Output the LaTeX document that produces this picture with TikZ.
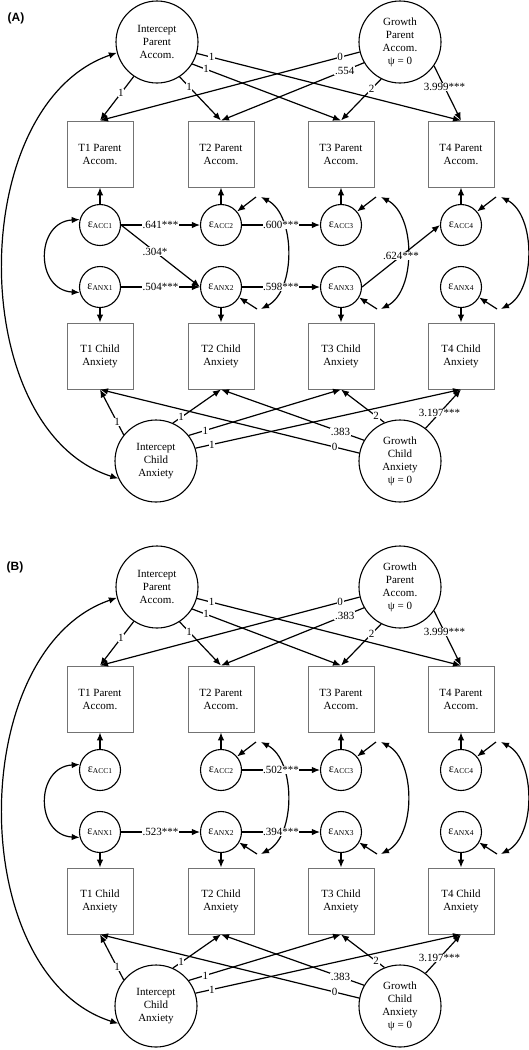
\documentclass[tikz,border=0pt]{standalone}
\usepackage{fontspec}
\setmainfont{Liberation Serif}
\setsansfont{Liberation Sans}
\usetikzlibrary{arrows.meta,calc}
\newcommand\epsl[1]{{\fontsize{12}{12}\selectfont ε}\raisebox{-1.2pt}{\fontsize{7.5}{8}\selectfont #1}}
\tikzset{
  lat/.style={circle,draw,line width=1.1pt,minimum size=82pt,inner sep=0pt,align=center,font=\fontsize{11}{13}\selectfont},
  err/.style={circle,draw,line width=1.1pt,minimum size=41pt,inner sep=0pt},
  obs/.style={rectangle,draw=black!55,line width=0.9pt,minimum width=66pt,minimum height=66pt,inner sep=0pt,align=center,font=\fontsize{11}{13}\selectfont},
  arr/.style={line width=1.2pt,-{Latex[length=8pt,width=6.5pt]}},
  darr/.style={line width=1.2pt,{Latex[length=8pt,width=6.5pt]}-{Latex[length=8pt,width=6.5pt]}},
  lbl/.style={fill=white,inner sep=0.6pt,font=\fontsize{11}{11}\selectfont},
  plabel/.style={font=\sffamily\bfseries\fontsize{12}{14}\selectfont}
}
\newcommand\drawpanel[1]{%
  \node[lat] (IP) at (157,42) {Intercept\\Parent\\Accom.};
  \node[lat] (GP) at (400,42) {Growth\\Parent\\Accom.\\ψ = 0};
  \node[lat] (IC) at (156,461) {Intercept\\Child\\Anxiety};
  \node[lat] (GC) at (400,461) {Growth\\Child\\Anxiety\\ψ = 0};
  \foreach \i/\x in {1/100,2/221,3/341,4/461}{
    \node[obs] (P\i) at (\x,154) {T\i\ Parent\\Accom.};
    \node[err] (A\i) at (\x,225) {\epsl{ACC\i}};
    \node[err] (N\i) at (\x,287) {\epsl{ANX\i}};
    \node[obs] (C\i) at (\x,356) {T\i\ Child\\Anxiety};
    \draw[arr] (A\i) -- (P\i);
    \draw[arr] (N\i) -- (C\i);
  }
  % disturbances and their covariances
  \foreach \i/\x in {2/221,3/341,4/461}{
    \coordinate (ta\i) at ({\x+35},197);
    \coordinate (tn\i) at ({\x+36},309);
    \coordinate (ca\i) at ({\x+40},197);
    \coordinate (cn\i) at ({\x+40},309);
    \draw[arr] (ta\i) -- (A\i.40);
    \draw[arr] (tn\i) -- (N\i.-30);
    \draw[darr] (ca\i) .. controls ({\x+75},215) and ({\x+75},291) .. (cn\i);
  }
  \draw[darr] (A1.165) .. controls (35,222) and (35,290) .. (N1.195);
  \draw[darr] (IP.195) .. controls (-35,105) and (-35,430) .. (IC.205);
  % parent loadings
  \draw[arr] (IP.-124) -- (P1.north) node[lbl,pos=.38]{1};
  \draw[arr] (IP.-57) -- (P2.north) node[lbl,pos=.23]{1};
  \draw[arr] (IP.-32) -- (P3.north) node[lbl,pos=.093]{1};
  \draw[arr] (IP.-16) -- (P4.north) node[lbl,pos=.056]{1};
  \draw[arr] (GP.194) -- (P1.north) node[lbl,pos=.075]{0};
  \draw[arr] (GP.210) -- (P2.north) node[lbl,pos=.135]{#1};
  \draw[arr] (GP.243) -- (P3.north) node[lbl,pos=.24]{2};
  \draw[arr] (GP.-35) -- (P4.north) node[lbl,pos=.385]{3.999***};
  % child loadings
  \draw[arr] (IC.141) -- (C1.south) node[lbl,pos=.28]{1};
  \draw[arr] (IC.66) -- (C2.south) node[lbl,pos=.17]{1};
  \draw[arr] (IC.38) -- (C3.south) node[lbl,pos=.11]{1};
  \draw[arr] (IC.18) -- (C4.south) node[lbl,pos=.062]{1};
  \draw[arr] (GC.169) -- (C1.south) node[lbl,pos=.095]{0};
  \draw[arr] (GC.150) -- (C2.south) node[lbl,pos=.165]{.383};
  \draw[arr] (GC.112) -- (C3.south) node[lbl,pos=.19]{2};
  \draw[arr] (GC.52) -- (C4.south) node[lbl,pos=.39]{3.197***};
}
\begin{document}
\begin{tikzpicture}[x=1pt,y=-1pt]
  \path[fill=white,use as bounding box] (0,0) rectangle (528,1050);
  \begin{scope}[name prefix=a-]
    \drawpanel{.554}
    \draw[arr] (A1.east) -- (A2.west) node[lbl,midway]{.641***};
    \draw[arr] (A1.east) -- (N2.west) node[lbl,pos=.43]{.304*};
    \draw[arr] (N1) -- (N2) node[lbl,midway]{.504***};
    \draw[arr] (A2) -- (A3) node[lbl,midway]{.600***};
    \draw[arr] (N2) -- (N3) node[lbl,midway]{.598***};
    \draw[arr] (N3.east) -- (A4.west) node[lbl,midway]{.624***};
    \node[plabel] (lab) at (16,18) {(A)};
  \end{scope}
  \begin{scope}[name prefix=b-,yshift=-545pt]
    \drawpanel{.383}
    \draw[arr] (N1) -- (N2) node[lbl,midway]{.523***};
    \draw[arr] (A2) -- (A3) node[lbl,midway]{.502***};
    \draw[arr] (N2) -- (N3) node[lbl,midway]{.394***};
    \node[plabel] (lab) at (15,22) {(B)};
  \end{scope}
\end{tikzpicture}
\end{document}
